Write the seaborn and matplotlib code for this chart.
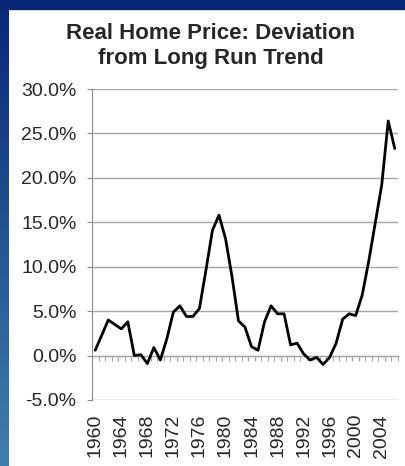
import numpy as np
import pandas as pd
import seaborn as sns
import matplotlib.pyplot as plt
from matplotlib.ticker import FuncFormatter, FixedLocator

# data
years = list(range(1960, 2007))
deviation = [0.6, 2.3, 4.0, 3.5, 3.0, 3.8, 0.0, 0.1, -0.9, 0.9,
             -0.5, 1.9, 4.9, 5.6, 4.4, 4.4, 5.3, 9.6, 14.1, 15.8,
             13.2, 8.9, 3.9, 3.2, 1.0, 0.6, 3.8, 5.6, 4.7, 4.7,
             1.2, 1.4, 0.2, -0.5, -0.2, -1.0, -0.2, 1.4, 4.1, 4.7,
             4.5, 6.8, 10.6, 14.9, 19.2, 26.4, 23.3]
label_years = list(range(1960, 2005, 4))

df = pd.DataFrame({"year": years, "dev": deviation})

sns.set_style("white")
plt.rcParams['font.family'] = ['Liberation Sans', 'DejaVu Sans']

W, H = 406, 466
fig = plt.figure(figsize=(W / 100, H / 100), dpi=100)
fig.patch.set_facecolor("white")

# slide background strips (top and left)
bg = fig.add_axes([0, 0, 1, 1], zorder=-10)
grad = np.linspace(0, 1, 200)[:, None]
cols = np.array([[0.03, 0.15, 0.47]]) * (1 - grad) + np.array([[0.25, 0.50, 0.68]]) * grad
img = np.ones((200, 1, 3))
img[:, 0, :] = cols
bg.imshow(img, extent=[0, 9, H, 0], aspect="auto")
bg.add_patch(plt.Rectangle((0, 0), W, 9, color="#082674"))
bg.set_xlim(0, W)
bg.set_ylim(H, 0)
bg.axis("off")

ax = fig.add_axes([92 / W, 1 - 400 / H, (398 - 92) / W, (400 - 89) / H])
sns.lineplot(data=df, x="year", y="dev", color="black", linewidth=2.0, ax=ax)

ax.set_xlim(1959.5, 2006.5)
ax.set_ylim(-5, 30)
ax.set_yticks(np.arange(-5, 31, 5))
ax.yaxis.set_major_formatter(FuncFormatter(lambda v, p: f"{v:.1f}%"))
ax.grid(axis="y", color="#a6a6a6", linewidth=1)
ax.set_axisbelow(True)
for s in ["top", "right", "bottom"]:
    ax.spines[s].set_visible(False)
ax.spines["left"].set_color("#8c8c8c")
ax.tick_params(axis="y", direction="out", length=3.6, color="#8c8c8c",
               labelsize=14, pad=7.5, left=True)

ax.set_xticks(label_years)
ax.set_xticklabels([str(y) for y in label_years], rotation=90)
ax.tick_params(axis="x", length=0, labelsize=14, pad=10)
ax.set_xlabel("")
ax.set_ylabel("")

# category axis crossing at zero with boundary tick marks
zero_ax = ax.secondary_xaxis(5 / 35)
zero_ax.xaxis.set_major_locator(FixedLocator(np.arange(1959.5, 2007, 1)))
zero_ax.tick_params(direction="out", length=3.6, color="#a6a6a6", labelbottom=False)
zero_ax.spines["bottom"].set_color("#8c8c8c")

fig.text(211 / W, 1 - 46 / H, "Real Home Price: Deviation\nfrom Long Run Trend",
         ha="center", va="center", fontsize=16, fontweight="bold", linespacing=1.2)

fig.savefig("out.png", dpi=100)
